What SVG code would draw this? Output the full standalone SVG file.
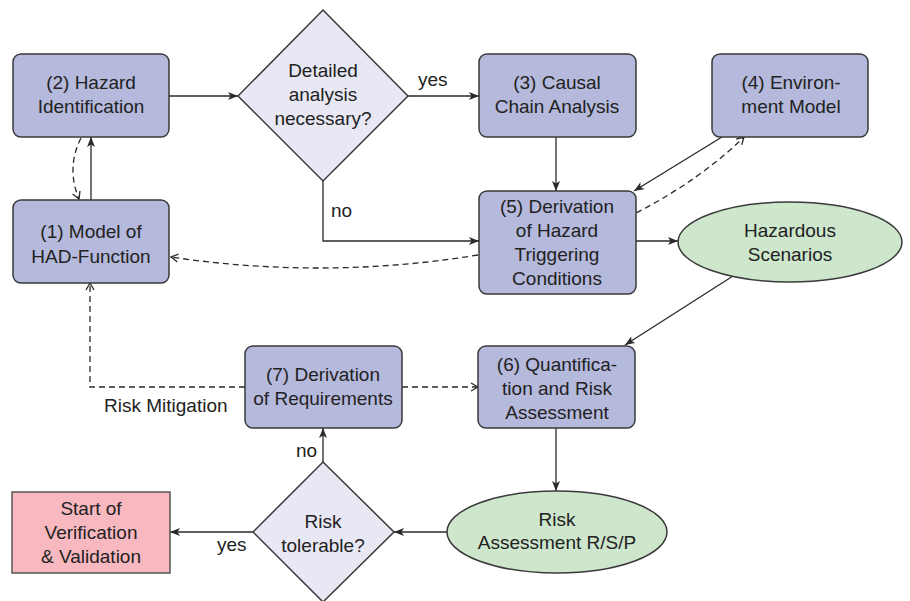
<svg xmlns="http://www.w3.org/2000/svg" width="910" height="601" viewBox="0 0 910 601">
<defs>
<marker id="arr" markerUnits="userSpaceOnUse" markerWidth="12" markerHeight="10" refX="10" refY="4" orient="auto">
<path d="M0,0 L10,4 L0,8 L2.5,4 z" fill="#2a2a2a"/>
</marker>
<marker id="oarr" markerUnits="userSpaceOnUse" markerWidth="12" markerHeight="12" refX="8" refY="5" orient="auto">
<path d="M1,1 L8,5 L1,9" fill="none" stroke="#2a2a2a" stroke-width="1.3"/>
</marker>
<style>
.box{fill:#b5b9dc;stroke:#3a3a3a;stroke-width:1.5}
.dia{fill:#e8e8f4;stroke:#3a3a3a;stroke-width:1.5}
.ell{fill:#cde6cc;stroke:#3a3a3a;stroke-width:1.5}
.term{fill:#f8b8bf;stroke:#555;stroke-width:1.5}
text{font-family:"Liberation Sans",Arial,sans-serif;font-size:19px;fill:#222;text-anchor:middle}
.lbl{text-anchor:start}
.c{fill:none;stroke:#2a2a2a;stroke-width:1.3}
.s{marker-end:url(#arr)}
.d{stroke-dasharray:6,4;marker-end:url(#oarr)}
</style>
</defs>

<g id="connectors">
<path class="c s" d="M169,96 L238,96"/>
<path class="c s" d="M408,96 L479,96"/>
<path class="c s" d="M323,181 L323,241 L479,241"/>
<path class="c s" d="M91,200 L91,137"/>
<path class="c d" d="M81,138 Q66,168 79,199"/>
<path class="c d" d="M478,255 Q325,280 171,257"/>
<path class="c s" d="M556,137 L556,191"/>
<path class="c s" d="M722,137 L634,191"/>
<path class="c d" d="M636,213 Q700,180 744,137"/>
<path class="c s" d="M636,241 L678,241"/>
<path class="c s" d="M733,276 L625,345"/>
<path class="c s" d="M556,428 L556,491"/>
<path class="c s" d="M447,532 L394,532"/>
<path class="c s" d="M253,532 L170,532"/>
<path class="c s" d="M323,462 L323,428"/>
<path class="c d" d="M402,387 L478,387"/>
<path class="c d" d="M245,387 L90,387 L90,283"/>
<text class="lbl" x="418" y="86">yes</text>
<text class="lbl" x="331" y="217">no</text>
<text class="lbl" x="104" y="412">Risk Mitigation</text>
<text class="lbl" x="296" y="457">no</text>
<text class="lbl" x="217" y="551">yes</text>
</g>

<g id="n2">
<rect class="box" x="13" y="54" width="156" height="83" rx="8"/>
<text x="91" y="89">(2) Hazard</text>
<text x="91" y="113">Identification</text>
</g>

<g id="n1">
<rect class="box" x="13" y="200" width="156" height="83" rx="8"/>
<text x="91" y="238">(1) Model of</text>
<text x="91" y="263">HAD-Function</text>
</g>

<g id="d1">
<polygon class="dia" points="323,10 408,96 323,181 238,96"/>
<text x="323" y="77">Detailed</text>
<text x="323" y="101">analysis</text>
<text x="323" y="125">necessary?</text>
</g>

<g id="n3">
<rect class="box" x="479" y="54" width="157" height="83" rx="8"/>
<text x="557" y="89">(3) Causal</text>
<text x="557" y="113">Chain Analysis</text>
</g>

<g id="n4">
<rect class="box" x="712" y="54" width="156" height="83" rx="8"/>
<text x="791" y="89">(4) Environ-</text>
<text x="791" y="113">ment Model</text>
</g>

<g id="n5">
<rect class="box" x="479" y="191" width="157" height="103" rx="8"/>
<text x="557" y="213">(5) Derivation</text>
<text x="557" y="237">of Hazard</text>
<text x="557" y="261">Triggering</text>
<text x="557" y="285">Conditions</text>
</g>

<g id="hs">
<ellipse class="ell" cx="790" cy="242" rx="112" ry="40"/>
<text x="790" y="237">Hazardous</text>
<text x="790" y="261">Scenarios</text>
</g>

<g id="n6">
<rect class="box" x="478" y="346" width="157" height="82" rx="8"/>
<text x="557" y="371">(6) Quantifica-</text>
<text x="557" y="395">tion and Risk</text>
<text x="557" y="419">Assessment</text>
</g>

<g id="n7">
<rect class="box" x="245" y="346" width="157" height="82" rx="8"/>
<text x="323" y="381">(7) Derivation</text>
<text x="323" y="405">of Requirements</text>
</g>

<g id="risk">
<ellipse class="ell" cx="557" cy="532" rx="110" ry="41"/>
<text x="557" y="526">Risk</text>
<text x="557" y="549">Assessment R/S/P</text>
</g>

<g id="d2">
<polygon class="dia" points="323,462 394,532 323,602 253,532"/>
<text x="323" y="528">Risk</text>
<text x="323" y="552">tolerable?</text>
</g>

<g id="start">
<rect class="term" x="12" y="492" width="158" height="81"/>
<text x="91" y="515">Start of</text>
<text x="91" y="539">Verification</text>
<text x="91" y="563">&amp; Validation</text>
</g>
</svg>
